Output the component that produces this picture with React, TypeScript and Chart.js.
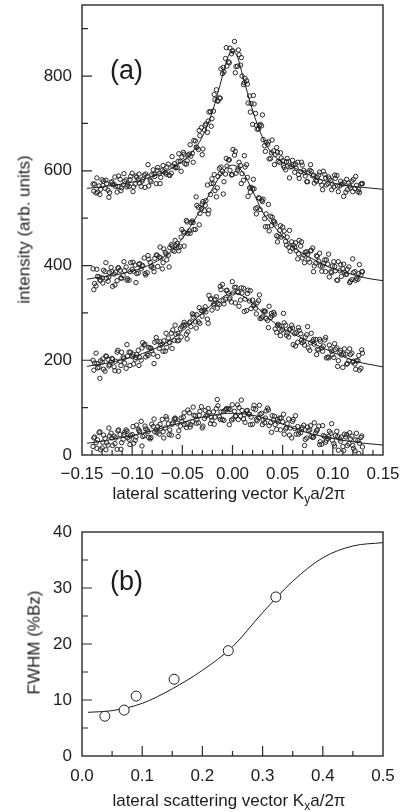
import React, { useEffect, useRef } from "react";
import { Chart, registerables } from "chart.js";
Chart.register(...registerables);

const FONT = "'Liberation Sans', Arial, Helvetica, sans-serif";
const INK = "#1c1c1c";
const AXIS = "#2a2a2a";

// ---------- Panel (a): lateral scans ----------
const xA = [-0.139, -0.136, -0.133, -0.130, -0.127, -0.124, -0.121, -0.118, -0.115, -0.112, -0.109, -0.106, -0.103, -0.100, -0.097, -0.094, -0.091, -0.088, -0.085, -0.082, -0.079, -0.076, -0.073, -0.070, -0.067, -0.064, -0.061, -0.058, -0.055, -0.052, -0.049, -0.046, -0.043, -0.040, -0.037, -0.034, -0.031, -0.028, -0.025, -0.022, -0.019, -0.016, -0.013, -0.010, -0.007, -0.004, -0.001, 0.002, 0.005, 0.008, 0.011, 0.014, 0.017, 0.020, 0.023, 0.026, 0.029, 0.032, 0.035, 0.038, 0.041, 0.044, 0.047, 0.050, 0.053, 0.056, 0.059, 0.062, 0.065, 0.068, 0.071, 0.074, 0.077, 0.080, 0.083, 0.086, 0.089, 0.092, 0.095, 0.098, 0.101, 0.104, 0.107, 0.110, 0.113, 0.116, 0.119, 0.122, 0.125, 0.128];
const xB = [-0.1375, -0.1345, -0.1315, -0.1285, -0.1255, -0.1225, -0.1195, -0.1165, -0.1135, -0.1105, -0.1075, -0.1045, -0.1015, -0.0985, -0.0955, -0.0925, -0.0895, -0.0865, -0.0835, -0.0805, -0.0775, -0.0745, -0.0715, -0.0685, -0.0655, -0.0625, -0.0595, -0.0565, -0.0535, -0.0505, -0.0475, -0.0445, -0.0415, -0.0385, -0.0355, -0.0325, -0.0295, -0.0265, -0.0235, -0.0205, -0.0175, -0.0145, -0.0115, -0.0085, -0.0055, -0.0025, 0.0005, 0.0035, 0.0065, 0.0095, 0.0125, 0.0155, 0.0185, 0.0215, 0.0245, 0.0275, 0.0305, 0.0335, 0.0365, 0.0395, 0.0425, 0.0455, 0.0485, 0.0515, 0.0545, 0.0575, 0.0605, 0.0635, 0.0665, 0.0695, 0.0725, 0.0755, 0.0785, 0.0815, 0.0845, 0.0875, 0.0905, 0.0935, 0.0965, 0.0995, 0.1025, 0.1055, 0.1085, 0.1115, 0.1145, 0.1175, 0.1205, 0.1235, 0.1265, 0.1295];
const xC = [-0.1382, -0.1352, -0.1322, -0.1292, -0.1262, -0.1232, -0.1202, -0.1172, -0.1142, -0.1112, -0.1082, -0.1052, -0.1022, -0.0992, -0.0962, -0.0932, -0.0902, -0.0872, -0.0842, -0.0812, -0.0782, -0.0752, -0.0722, -0.0692, -0.0662, -0.0632, -0.0602, -0.0572, -0.0542, -0.0512, -0.0482, -0.0452, -0.0422, -0.0392, -0.0362, -0.0332, -0.0302, -0.0272, -0.0242, -0.0212, -0.0182, -0.0152, -0.0122, -0.0092, -0.0062, -0.0032, -0.0002, 0.0028, 0.0058, 0.0088, 0.0118, 0.0148, 0.0178, 0.0208, 0.0238, 0.0268, 0.0298, 0.0328, 0.0358, 0.0388, 0.0418, 0.0448, 0.0478, 0.0508, 0.0538, 0.0568, 0.0598, 0.0628, 0.0658, 0.0688, 0.0718, 0.0748, 0.0778, 0.0808, 0.0838, 0.0868, 0.0898, 0.0928, 0.0958, 0.0988, 0.1018, 0.1048, 0.1078, 0.1108, 0.1138, 0.1168, 0.1198, 0.1228, 0.1258, 0.1288];

const scan1A = [572, 553, 568, 581, 563, 559, 575, 571, 555, 582, 570, 581, 567, 595, 572, 581, 567, 591, 588, 580, 602, 573, 594, 601, 596, 614, 595, 615, 607, 620, 639, 614, 635, 637, 663, 645, 691, 686, 681, 725, 726, 771, 754, 805, 837, 830, 847, 873, 821, 823, 782, 790, 758, 698, 721, 688, 695, 653, 656, 626, 642, 649, 618, 621, 602, 619, 609, 597, 618, 598, 601, 577, 601, 589, 580, 591, 570, 592, 573, 580, 566, 590, 568, 572, 555, 574, 578, 562, 556, 572];
const scan1B = [572, 555, 561, 578, 573, 554, 571, 567, 589, 564, 578, 570, 588, 566, 586, 574, 582, 593, 568, 592, 588, 607, 586, 598, 608, 590, 610, 606, 636, 629, 615, 633, 631, 664, 649, 674, 646, 699, 724, 710, 750, 747, 815, 809, 821, 859, 853, 820, 845, 800, 795, 743, 742, 741, 688, 698, 666, 660, 625, 665, 634, 620, 627, 607, 626, 608, 613, 605, 584, 612, 589, 597, 599, 574, 586, 577, 599, 570, 583, 572, 584, 556, 572, 576, 560, 564, 582, 569, 554, 573];
const scan1C = [557, 585, 550, 569, 580, 544, 577, 587, 567, 558, 594, 566, 581, 556, 589, 593, 578, 565, 613, 577, 593, 601, 573, 611, 593, 591, 630, 608, 620, 599, 635, 621, 655, 618, 650, 685, 634, 696, 705, 694, 761, 748, 753, 818, 860, 828, 853, 807, 855, 839, 786, 783, 724, 759, 696, 695, 718, 641, 661, 638, 613, 639, 638, 611, 619, 585, 622, 614, 592, 618, 596, 577, 613, 591, 578, 597, 560, 585, 587, 560, 591, 568, 578, 546, 582, 568, 556, 588, 560, 573];
const scan2A = [393, 357, 376, 374, 387, 367, 396, 382, 368, 390, 379, 397, 369, 392, 401, 384, 393, 416, 385, 407, 395, 422, 418, 393, 428, 422, 444, 430, 447, 440, 471, 495, 473, 494, 476, 523, 520, 516, 570, 550, 573, 545, 605, 599, 593, 623, 591, 633, 601, 611, 580, 613, 564, 562, 520, 543, 538, 499, 482, 504, 494, 463, 474, 481, 451, 439, 450, 439, 414, 441, 422, 429, 407, 437, 405, 409, 388, 412, 403, 387, 408, 369, 389, 393, 381, 397, 370, 387, 371, 380];
const scan2B = [362, 377, 369, 390, 373, 385, 356, 386, 395, 373, 389, 372, 406, 388, 383, 404, 400, 380, 413, 399, 415, 398, 416, 435, 412, 438, 432, 442, 431, 476, 469, 468, 491, 476, 527, 510, 535, 537, 517, 583, 558, 588, 608, 577, 610, 601, 645, 595, 618, 594, 608, 546, 565, 562, 522, 518, 540, 509, 473, 502, 488, 461, 460, 473, 460, 430, 443, 431, 453, 416, 428, 414, 432, 399, 419, 399, 404, 412, 376, 399, 389, 408, 377, 386, 392, 367, 385, 373, 402, 387];
const scan2C = [349, 392, 369, 363, 406, 376, 387, 359, 395, 374, 408, 369, 387, 407, 364, 402, 399, 383, 421, 397, 387, 422, 439, 406, 424, 397, 441, 453, 438, 460, 441, 492, 468, 491, 545, 486, 530, 527, 509, 573, 592, 564, 594, 551, 626, 623, 592, 641, 606, 573, 632, 586, 555, 582, 509, 542, 535, 482, 529, 484, 492, 450, 484, 463, 443, 474, 437, 448, 425, 450, 406, 424, 431, 387, 421, 426, 399, 387, 424, 385, 398, 369, 402, 403, 382, 364, 414, 369, 383, 387];
const scan3A = [200, 215, 185, 196, 177, 202, 196, 186, 217, 198, 207, 183, 217, 208, 202, 221, 200, 232, 213, 226, 213, 248, 225, 234, 219, 247, 257, 242, 241, 267, 274, 255, 279, 298, 281, 281, 305, 306, 287, 329, 317, 334, 318, 360, 329, 341, 323, 354, 345, 327, 352, 305, 325, 327, 310, 326, 289, 304, 284, 290, 301, 259, 273, 265, 274, 249, 274, 256, 238, 256, 240, 254, 221, 240, 244, 222, 226, 243, 207, 224, 206, 226, 217, 185, 213, 199, 215, 192, 199, 183];
const scan3B = [194, 184, 199, 181, 208, 191, 202, 198, 177, 217, 194, 209, 217, 192, 212, 206, 237, 207, 227, 220, 238, 208, 232, 241, 227, 237, 264, 255, 242, 271, 275, 260, 271, 296, 296, 278, 303, 302, 337, 306, 329, 320, 349, 319, 348, 332, 342, 354, 314, 342, 329, 348, 309, 317, 321, 288, 304, 288, 314, 294, 266, 276, 262, 279, 258, 266, 233, 259, 263, 237, 249, 226, 257, 234, 223, 240, 230, 205, 232, 212, 223, 199, 211, 224, 193, 212, 198, 199, 179, 215];
const scan3C = [179, 193, 162, 203, 209, 188, 204, 178, 221, 189, 204, 233, 189, 213, 206, 189, 226, 234, 210, 225, 193, 240, 239, 219, 257, 238, 225, 274, 257, 249, 280, 245, 281, 291, 268, 311, 293, 313, 278, 330, 320, 310, 356, 326, 347, 329, 366, 321, 343, 353, 303, 341, 347, 315, 298, 338, 292, 303, 269, 299, 297, 273, 252, 299, 253, 265, 268, 230, 269, 242, 232, 271, 237, 244, 212, 244, 219, 248, 205, 219, 235, 187, 221, 213, 192, 224, 196, 181, 210, 222];
const scan4A = [18, 26, 47, 15, 35, 21, 46, 40, 12, 43, 33, 53, 33, 43, 31, 55, 71, 41, 53, 34, 60, 53, 44, 75, 57, 66, 42, 76, 67, 61, 80, 58, 89, 70, 83, 68, 102, 77, 84, 66, 91, 98, 80, 75, 95, 98, 74, 92, 106, 82, 76, 93, 86, 65, 96, 79, 88, 68, 99, 68, 74, 54, 78, 70, 55, 76, 36, 56, 60, 47, 63, 36, 53, 37, 47, 61, 23, 39, 35, 46, 24, 50, 34, 18, 38, 24, 40, 9, 31, 37];
const scan4B = [38, 32, 11, 42, 26, 40, 20, 36, 53, 26, 48, 37, 41, 25, 63, 49, 39, 55, 37, 65, 49, 60, 56, 36, 76, 53, 68, 76, 51, 71, 64, 95, 64, 84, 75, 92, 61, 82, 90, 73, 80, 104, 91, 73, 97, 96, 76, 82, 100, 94, 69, 87, 80, 105, 72, 86, 74, 93, 62, 83, 64, 70, 78, 44, 66, 57, 75, 44, 52, 58, 33, 51, 39, 68, 53, 28, 41, 31, 50, 31, 41, 10, 38, 44, 20, 34, 14, 46, 25, 17];
const scan4C = [36, 14, 49, 27, 11, 57, 36, 24, 51, 12, 43, 50, 22, 60, 38, 52, 19, 61, 49, 37, 76, 47, 65, 49, 81, 43, 65, 78, 39, 78, 89, 66, 59, 101, 67, 84, 57, 94, 98, 80, 65, 117, 75, 92, 98, 64, 106, 82, 75, 116, 85, 94, 64, 98, 75, 105, 64, 78, 95, 48, 82, 75, 53, 86, 58, 42, 71, 83, 44, 54, 20, 59, 62, 38, 51, 22, 62, 27, 39, 66, 19, 39, 29, 9, 43, 47, 20, 32, 3, 40];

const fitX = [-0.145, -0.14, -0.13, -0.12, -0.11, -0.10, -0.09, -0.08, -0.07, -0.06, -0.05, -0.04, -0.03, -0.02, -0.01, -0.005, 0, 0.005, 0.01, 0.02, 0.03, 0.04, 0.05, 0.06, 0.07, 0.08, 0.09, 0.10, 0.11, 0.12, 0.13, 0.14, 0.15];
const fit1 = [563, 564, 566, 569, 572, 576, 581, 588, 596, 606, 620, 640, 672, 725, 800, 838, 852, 840, 802, 728, 670, 635, 618, 608, 598, 588, 580, 574, 570, 567, 565, 563, 561];
const fit2 = [371, 373, 376, 379, 383, 388, 395, 404, 416, 432, 457, 489, 524, 562, 597, 608, 612, 608, 598, 558, 513, 486, 463, 441, 425, 414, 403, 393, 387, 381, 375, 371, 368];
const fit3 = [187, 189, 192, 196, 201, 207, 214, 222, 232, 245, 262, 280, 300, 318, 333, 339, 342, 340, 336, 320, 301, 282, 267, 256, 246, 236, 226, 217, 208, 200, 194, 190, 186];
const fit4 = [25, 26, 29, 33, 37, 41, 46, 51, 57, 63, 69, 75, 80, 84, 87, 88, 88, 88, 87, 84, 79, 73, 65, 57, 50, 44, 39, 35, 31, 28, 25, 23, 21];

// ---------- Panel (b): FWHM ----------
const fwhmX = [0.038, 0.070, 0.090, 0.153, 0.243, 0.322];
const fwhmY = [7.1, 8.2, 10.7, 13.7, 18.8, 28.4];
const fwhmFitX = [0.01, 0.05, 0.1, 0.15, 0.2, 0.25, 0.3, 0.35, 0.4, 0.45, 0.5];
const fwhmFitY = [7.8, 8.1, 9.4, 12.0, 15.3, 19.5, 25.6, 31.2, 35.4, 37.5, 38.1];

const pts = (xs: number[], ys: number[]) => xs.map((x, i) => ({ x, y: ys[i] }));

function makeFrameTicks(spec: {
  xMajor: (v: number) => boolean;
  yMajor: (v: number) => boolean;
  xMinorLen: number;
  yMinorLen: number;
  majorLen: number;
}) {
  return {
    id: "frameTicks",
    afterDatasetsDraw(chart: any) {
      const { ctx, chartArea: a } = chart;
      const xs = chart.scales.x;
      const ys = chart.scales.y;
      ctx.save();
      ctx.strokeStyle = AXIS;
      ctx.lineWidth = 1.2;
      ctx.beginPath();
      xs.ticks.forEach((t: any) => {
        const px = xs.getPixelForValue(t.value);
        if (px < a.left + 1 || px > a.right - 1) return;
        const len = spec.xMajor(t.value) ? spec.majorLen : spec.xMinorLen;
        ctx.moveTo(px, a.bottom);
        ctx.lineTo(px, a.bottom - len);
      });
      ys.ticks.forEach((t: any) => {
        const py = ys.getPixelForValue(t.value);
        if (py < a.top + 1 || py > a.bottom - 1) return;
        const len = spec.yMajor(t.value) ? spec.majorLen : spec.yMinorLen;
        ctx.moveTo(a.left, py);
        ctx.lineTo(a.left + len, py);
      });
      ctx.stroke();
      ctx.lineWidth = 1.4;
      ctx.strokeRect(a.left, a.top, a.right - a.left, a.bottom - a.top);
      ctx.restore();
    },
  };
}

const noPad = (s: any) => {
  s.paddingTop = 0;
  s.paddingBottom = 0;
  s.paddingLeft = 0;
  s.paddingRight = 0;
};

const scatterDs = (xs: number[], ys: number[]) => ({
  data: pts(xs, ys),
  showLine: false,
  pointRadius: 2.2,
  pointBorderWidth: 1,
  pointBorderColor: "#262626",
  pointBackgroundColor: "rgba(255,255,255,0)",
  order: 1,
});
const lineDs = (xs: number[], ys: number[]) => ({
  data: pts(xs, ys),
  showLine: true,
  pointRadius: 0,
  borderWidth: 1,
  borderColor: INK,
  cubicInterpolationMode: "monotone" as const,
  fill: false,
  order: 0,
});

export default function App() {
  const refA = useRef<HTMLCanvasElement>(null);
  const refB = useRef<HTMLCanvasElement>(null);

  useEffect(() => {
    Chart.defaults.font.family = FONT;
    Chart.defaults.font.size = 17;
    Chart.defaults.color = INK;

    const fmtA = (n: number) => (n < 0 ? "\u2212" : "") + (Math.abs(n) / 100).toFixed(2);

    const chartA = new Chart(refA.current as HTMLCanvasElement, {
      type: "scatter",
      data: {
        datasets: [
          lineDs(fitX, fit1),
          lineDs(fitX, fit2),
          lineDs(fitX, fit3),
          lineDs(fitX, fit4),
          scatterDs(xA, scan1A),
          scatterDs(xB, scan1B),
          scatterDs(xC, scan1C),
          scatterDs(xA, scan2A),
          scatterDs(xB, scan2B),
          scatterDs(xC, scan2C),
          scatterDs(xA, scan3A),
          scatterDs(xB, scan3B),
          scatterDs(xC, scan3C),
          scatterDs(xA, scan4A),
          scatterDs(xB, scan4B),
          scatterDs(xC, scan4C),
        ] as any,
      },
      options: {
        animation: false,
        responsive: false,
        events: [],
        layout: { padding: { left: 0, right: 24, top: 3, bottom: 0 } },
        plugins: { legend: { display: false }, tooltip: { enabled: false } },
        scales: {
          x: {
            type: "linear",
            min: -0.15,
            max: 0.15,
            grid: { display: false, drawTicks: false },
            border: { display: false },
            ticks: {
              stepSize: 0.01,
              autoSkip: false,
              maxRotation: 0,
              minRotation: 0,
              padding: 9,
              callback: (v: any) => {
                const n = Math.round(Number(v) * 100);
                return n % 5 === 0 ? fmtA(n) : "";
              },
            },
            afterFit: (s: any) => {
              s.height = 45;
              noPad(s);
            },
          },
          y: {
            type: "linear",
            min: 0,
            max: 950,
            grid: { display: false, drawTicks: false },
            border: { display: false },
            ticks: {
              stepSize: 100,
              autoSkip: false,
              padding: 10,
              callback: (v: any) => {
                const n = Math.round(Number(v));
                return n % 200 === 0 ? String(n) : "";
              },
            },
            afterFit: (s: any) => {
              s.width = 82;
              noPad(s);
            },
          },
        },
      },
      plugins: [
        makeFrameTicks({
          xMajor: (v) => Math.round(v * 100) % 5 === 0,
          yMajor: (v) => Math.round(v) % 200 === 0,
          xMinorLen: 5,
          yMinorLen: 6,
          majorLen: 10,
        }),
      ],
    } as any);

    const chartB = new Chart(refB.current as HTMLCanvasElement, {
      type: "scatter",
      data: {
        datasets: [
          { ...lineDs(fwhmFitX, fwhmFitY), order: 1 },
          {
            data: pts(fwhmX, fwhmY),
            showLine: false,
            pointRadius: 5,
            pointBorderWidth: 1,
            pointBorderColor: INK,
            pointBackgroundColor: "#ffffff",
            order: 0,
          },
        ] as any,
      },
      options: {
        animation: false,
        responsive: false,
        events: [],
        layout: { padding: { left: 0, right: 24, top: 32, bottom: 0 } },
        plugins: { legend: { display: false }, tooltip: { enabled: false } },
        scales: {
          x: {
            type: "linear",
            min: 0,
            max: 0.5,
            grid: { display: false, drawTicks: false },
            border: { display: false },
            ticks: {
              stepSize: 0.05,
              autoSkip: false,
              maxRotation: 0,
              minRotation: 0,
              padding: 10,
              callback: (v: any) => {
                const n = Math.round(Number(v) * 100);
                return n % 10 === 0 ? (n / 100).toFixed(1) : "";
              },
            },
            afterFit: (s: any) => {
              s.height = 56;
              noPad(s);
            },
          },
          y: {
            type: "linear",
            min: 0,
            max: 40,
            grid: { display: false, drawTicks: false },
            border: { display: false },
            ticks: {
              stepSize: 5,
              autoSkip: false,
              padding: 10,
              callback: (v: any) => {
                const n = Math.round(Number(v));
                return n % 10 === 0 ? String(n) : "";
              },
            },
            afterFit: (s: any) => {
              s.width = 82;
              noPad(s);
            },
          },
        },
      },
      plugins: [
        makeFrameTicks({
          xMajor: (v) => Math.round(v * 100) % 10 === 0,
          yMajor: (v) => Math.round(v) % 10 === 0,
          xMinorLen: 5,
          yMinorLen: 6,
          majorLen: 10,
        }),
      ],
    } as any);

    return () => {
      chartA.destroy();
      chartB.destroy();
    };
  }, []);

  const titleStyle: React.CSSProperties = {
    position: "absolute",
    fontSize: 17,
    lineHeight: "17px",
    whiteSpace: "nowrap",
    textAlign: "center",
  };
  const sub: React.CSSProperties = { fontSize: 12, position: "relative", top: 4 };

  return (
    <div
      style={{
        position: "absolute",
        left: 0,
        top: 0,
        width: 407,
        height: 812,
        background: "#ffffff",
        fontFamily: FONT,
        color: INK,
        overflow: "hidden",
      }}
    >
      <canvas ref={refA} width={407} height={500} style={{ position: "absolute", left: 0, top: 0, width: 407, height: 500 }} />
      <canvas ref={refB} width={407} height={312} style={{ position: "absolute", left: 0, top: 500, width: 407, height: 312 }} />

      <div style={{ position: "absolute", left: 110, top: 57, fontSize: 27, lineHeight: "27px" }}>(a)</div>
      <div style={{ position: "absolute", left: 110, top: 568, fontSize: 27, lineHeight: "27px" }}>(b)</div>

      <div style={{ ...titleStyle, left: 79, width: 300, top: 485 }}>
        lateral scattering vector K<span style={sub}>y</span>a/2π
      </div>
      <div style={{ ...titleStyle, left: 79, width: 300, top: 792 }}>
        lateral scattering vector K<span style={sub}>x</span>a/2π
      </div>

      <div
        style={{
          ...titleStyle,
          left: 24.3 - 110,
          top: 229.5 - 8.5,
          width: 220,
          height: 17,
          transform: "rotate(-90deg)",
        }}
      >
        intensity (arb. units)
      </div>
      <div
        style={{
          ...titleStyle,
          left: 34.3 - 80,
          top: 642.5 - 8.5,
          width: 160,
          height: 17,
          transform: "rotate(-90deg)",
        }}
      >
        FWHM (%Bz)
      </div>
    </div>
  );
}
